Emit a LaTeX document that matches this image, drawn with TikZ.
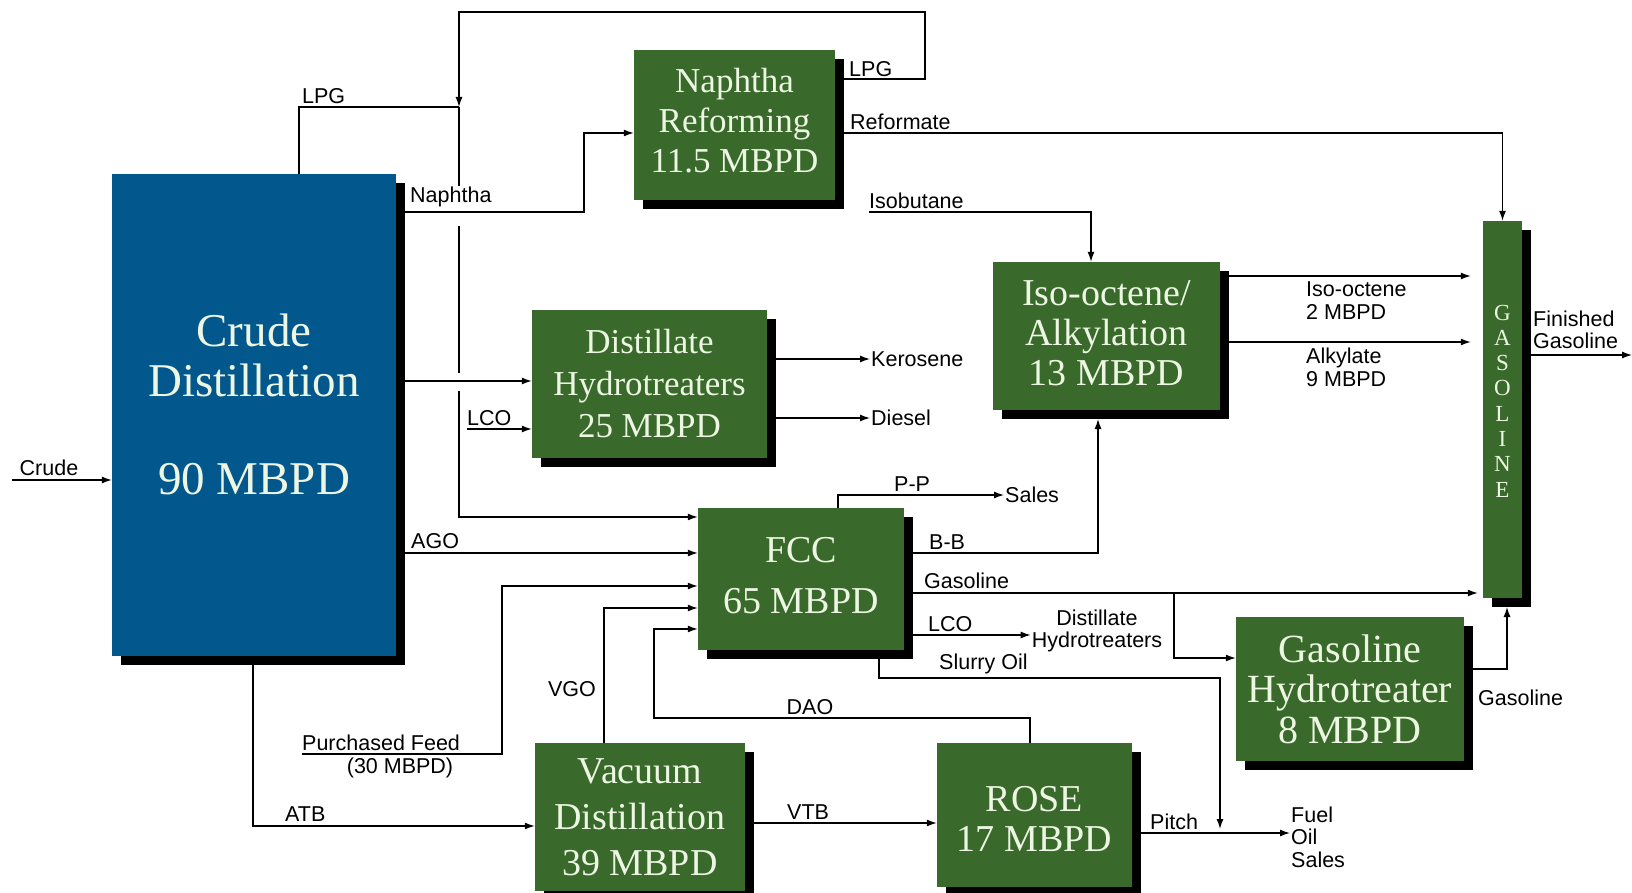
\documentclass[tikz,border=0pt]{standalone}
\usepackage{fontspec}
\newfontfamily\etichettafont{Liberation Sans}
\newfontfamily\impiantofont{Liberation Serif}
\usetikzlibrary{arrows.meta,shadows,backgrounds}

\definecolor{verdeimpianto}{RGB}{57,105,43}
\definecolor{bluimpianto}{RGB}{2,87,140}
\definecolor{testochiaro}{RGB}{236,246,226}

\begin{document}
\begin{tikzpicture}[
  x=1pt, y=-1pt,
  filo/.style={draw=black, line width=1.3pt},
  flusso/.style={filo, -{Latex[length=10pt, width=7pt]}},
  etichetta/.style={inner sep=1pt, align=left, font=\etichettafont\fontsize{21.5}{22.5}\selectfont},
  impianto/.style={fill=verdeimpianto, text=testochiaro, inner sep=0pt, align=center,
    font=\impiantofont\fontsize{38}{40}\selectfont,
    drop shadow={shadow xshift=9pt, shadow yshift=-9pt, opacity=1, fill=black}}
]
\useasboundingbox (0,0) rectangle (1632,893);

%--------------------------------------------------------------
% Impianti
%--------------------------------------------------------------
\node[impianto, fill=bluimpianto, minimum width=284pt, minimum height=482pt, text depth=22pt,
  font=\impiantofont\fontsize{47}{50}\selectfont] (crude) at (254,415) {Crude\\Distillation\\[48pt]90 MBPD};
\node[impianto, minimum width=201pt, minimum height=150pt, text depth=10pt,
  font=\impiantofont\fontsize{35}{40}\selectfont] (rif) at (734.5,125) {Naphtha\\Reforming\\11.5 MBPD};
\node[impianto, minimum width=235pt, minimum height=148pt,
  font=\impiantofont\fontsize{35}{42}\selectfont] (idrodist) at (649.5,384) {Distillate\\Hydrotreaters\\25 MBPD};
\node[impianto, minimum width=227pt, minimum height=148pt, text depth=6pt] (alchil) at (1106.5,336) {Iso-octene/\\Alkylation\\13 MBPD};
\node[impianto, minimum width=206pt, minimum height=142pt, text depth=8pt] (fcc) at (801,579) {FCC\\[11pt]65 MBPD};
\node[impianto, minimum width=228pt, minimum height=144pt,
  font=\impiantofont\fontsize{40}{40.5}\selectfont] (idrobenz) at (1350,689) {Gasoline\\Hydrotreater\\8 MBPD};
\node[impianto, minimum width=210pt, minimum height=148pt] (vuoto) at (640,817) {Vacuum\\[6pt]Distillation\\[6pt]39 MBPD};
\node[impianto, minimum width=195pt, minimum height=144pt, text height=74pt] (rose) at (1034.5,815) {ROSE\\17 MBPD};
% collettore benzina
\node[impianto, minimum width=39pt, minimum height=377pt] (benzina) at (1502.5,409.5) {};
\node[text=testochiaro, inner sep=0pt, align=center, font=\impiantofont\fontsize{23}{25.3}\selectfont]
  (lettere) at (1502.5,401) {G\\A\\S\\O\\L\\I\\N\\E};

%--------------------------------------------------------------
% Etichette
%--------------------------------------------------------------
\node[etichetta, anchor=south] (lgreggio) at (49,477) {Crude};
\node[etichetta, anchor=south west] (llpg) at (301,105) {LPG};
\node[etichetta, anchor=south west] (llpgrif) at (848,78) {LPG};
\node[etichetta, anchor=south west, fill=white] (lnafta) at (409,208) {Naphtha};
\node[etichetta, anchor=south west] (lriformato) at (849,131) {Reformate};
\node[etichetta, anchor=south west] (lisobutano) at (868,210) {Isobutane};
\node[etichetta, anchor=south west] (llcoin) at (466,427) {LCO};
\node[etichetta, anchor=west] (cherosene) at (870,359) {Kerosene};
\node[etichetta, anchor=west] (gasolio) at (870,418) {Diesel};
\node[etichetta, anchor=north west] (lisoottene) at (1305,281) {Iso-octene\\2 MBPD};
\node[etichetta, anchor=north west] (lalchilato) at (1305,347) {Alkylate\\9 MBPD};
\node[etichetta, anchor=south west] (lfinita) at (1532,350) {Finished\\Gasoline};
\node[etichetta, anchor=south west] (lago) at (410,550) {AGO};
\node[etichetta, anchor=south west] (lacquisto) at (301,752) {Purchased Feed};
\node[etichetta, anchor=north] (lacquisto2) at (400,757) {(30 MBPD)};
\node[etichetta, anchor=east] (lvgo) at (597,689) {VGO};
\node[etichetta, anchor=south] (ldao) at (810,716) {DAO};
\node[etichetta, anchor=south west] (latb) at (284,823) {ATB};
\node[etichetta, anchor=south west] (lvtb) at (786,821) {VTB};
\node[etichetta, anchor=west] (vendite) at (1004,495) {Sales};
\node[etichetta, anchor=south west] (lpp) at (893,493) {P-P};
\node[etichetta, anchor=south west] (lbb) at (928,551) {B-B};
\node[etichetta, anchor=south west] (lbenzfcc) at (923,590) {Gasoline};
\node[etichetta, anchor=south west] (llcofcc) at (927,633) {LCO};
\node[etichetta, align=center] (ldistillati) at (1097,631) {Distillate\\Hydrotreaters};
\node[etichetta, anchor=south west] (lslurry) at (938,675) {Slurry Oil};
\node[etichetta, anchor=south west] (lpece) at (1149,831) {Pitch};
\node[etichetta, anchor=west] (olio) at (1290,837) {Fuel\\Oil\\Sales};
\node[etichetta, anchor=north west] (lbenzght) at (1477,689) {Gasoline};

%--------------------------------------------------------------
% Correnti (sotto impianti e ombre)
%--------------------------------------------------------------
\begin{pgfonlayer}{background}
\coordinate (ingresso) at (12,480);
\coordinate (nodolpg) at (459,107);
\coordinate (ricircolo) at (925,12);
\coordinate (isobutano) at (869,212);
\coordinate (lcoin) at (467,429);
\coordinate (uscita) at (1632,355);
\coordinate (acquisto) at (302,754);
\coordinate (ingressobb) at (1098,419);
\coordinate (nodopece) at (1220,829);
\coordinate (ingressoght) at (1507,607);

% greggio e LPG
\draw[flusso] (ingresso) -- (crude.west |- ingresso);
\draw[filo] (crude.north -| 299,0) |- (nodolpg);
\draw[flusso] (rif.east |- 0,79) -| (ricircolo) -| (nodolpg);
% linea verso FCC, interrotta agli incroci
\draw[filo] (nodolpg) -- (459,188);
\draw[filo] (459,226) -- (459,373);
\draw[flusso] (459,391) |- (fcc.west |- 0,517);

% nafta e reforming
\draw[flusso] (crude.east |- 0,212) -- (584,212) |- (rif.west |- 0,133);
\draw[flusso] (rif.east |- 0,133) -| (benzina.north);
\draw[flusso] (isobutano) -| (alchil.north -| 1091,0);

% idrotrattamento distillati
\draw[flusso] (crude.east |- 0,381) -- (idrodist.west |- 0,381);
\draw[flusso] (lcoin) -- (idrodist.west |- lcoin);
\draw[flusso] (idrodist.east |- cherosene) -- (cherosene.west);
\draw[flusso] (idrodist.east |- gasolio) -- (gasolio.west);

% alchilazione e collettore
\draw[flusso, shorten >=12pt] (alchil.east |- 0,276) -- (benzina.west |- 0,276);
\draw[flusso, shorten >=12pt] (alchil.east |- 0,342) -- (benzina.west |- 0,342);
\draw[flusso] (benzina.east |- uscita) -- (uscita);

% alimentazioni FCC
\draw[flusso] (crude.east |- 0,553) -- (fcc.west |- 0,553);
\draw[flusso] (acquisto) -- (502,754) |- (fcc.west |- 0,586);
\draw[flusso] (vuoto.north -| 604,0) |- (fcc.west |- 0,608);
\draw[flusso] (rose.north -| 1030,0) |- (654,718) |- (fcc.west |- 0,629);

% uscite FCC
\draw[flusso] (fcc.north -| 838,0) |- (vendite.west);
\draw[flusso] (fcc.east |- 0,553) -| (ingressobb);
\draw[flusso, shorten >=5pt] (fcc.east |- 0,593) -- (benzina.west |- 0,593);
\draw[flusso] (1174,593) |- (idrobenz.west |- 0,658);
\draw[flusso] (fcc.east |- 0,635) -- (ldistillati.west |- 0,635);
\draw[flusso] (fcc.south -| 879,0) -- (879,678) -| (nodopece);
\draw[flusso] (idrobenz.east |- 0,669) -| (ingressoght);

% vuoto e ROSE
\draw[flusso] (crude.south -| 253,0) |- (vuoto.west |- 0,826);
\draw[flusso] (vuoto.east |- 0,823) -- (rose.west |- 0,823);
\draw[flusso] (rose.east |- 0,833) -- (olio.west |- 0,833);
\end{pgfonlayer}

\end{tikzpicture}
\end{document}
